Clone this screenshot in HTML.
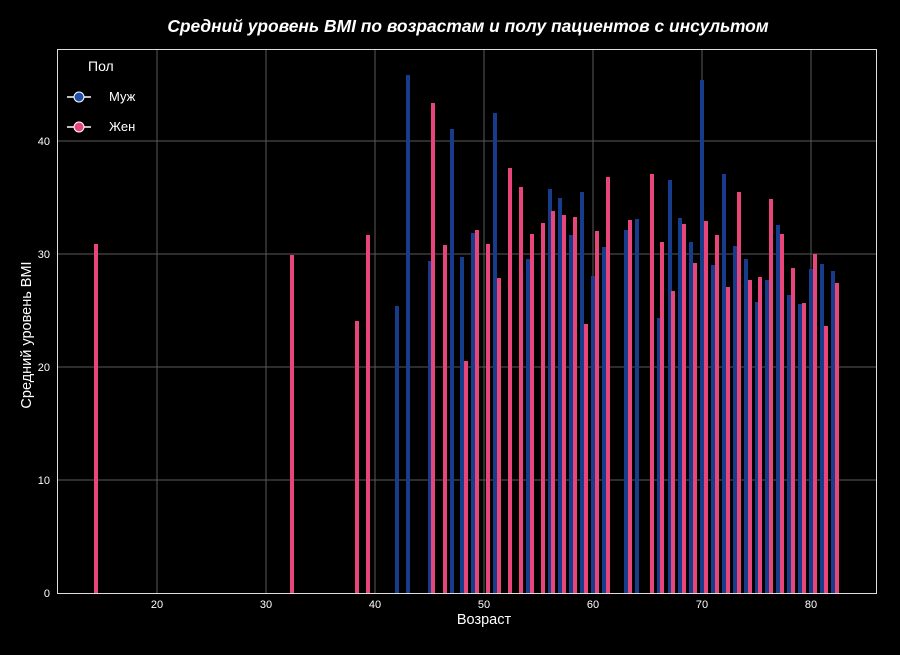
<!DOCTYPE html>
<html><head><meta charset="utf-8"><style>body{margin:0;background:#000}svg{display:block}text{font-family:"Liberation Sans",sans-serif;fill:#fff}</style></head><body>
<svg width="900" height="655" viewBox="0 0 900 655">
<rect width="900" height="655" fill="#000"/>
<g stroke="#5a5a5a" stroke-width="1">
<line x1="157" y1="49" x2="157" y2="593"/><line x1="266" y1="49" x2="266" y2="593"/><line x1="375" y1="49" x2="375" y2="593"/><line x1="484" y1="49" x2="484" y2="593"/><line x1="593" y1="49" x2="593" y2="593"/><line x1="702" y1="49" x2="702" y2="593"/><line x1="811" y1="49" x2="811" y2="593"/>
<line x1="57" y1="480" x2="876" y2="480"/><line x1="57" y1="367" x2="876" y2="367"/><line x1="57" y1="254" x2="876" y2="254"/><line x1="57" y1="141" x2="876" y2="141"/>
</g>
<g id="bars"></g>
<rect x="57.5" y="49.5" width="819" height="544" fill="none" stroke="#ddd" stroke-width="1"/>
<g font-size="11" text-anchor="middle">
<text x="157" y="608">20</text><text x="266" y="608">30</text><text x="375" y="608">40</text><text x="484" y="608">50</text><text x="593" y="608">60</text><text x="702" y="608">70</text><text x="811" y="608">80</text>
</g>
<g font-size="11" text-anchor="end">
<text x="50" y="597">0</text><text x="50" y="484">10</text><text x="50" y="371">20</text><text x="50" y="258">30</text><text x="50" y="145">40</text>
</g>
<text x="468" y="32" font-size="17.4" font-weight="bold" font-style="italic" text-anchor="middle">Средний уровень BMI по возрастам и полу пациентов с инсультом</text>
<text x="484" y="624" font-size="14.5" text-anchor="middle">Возраст</text>
<text transform="translate(31,335) rotate(-90)" font-size="14.5" text-anchor="middle">Средний уровень BMI</text>
<text x="88" y="71" font-size="14">Пол</text>
<line x1="67" y1="97" x2="91" y2="97" stroke="#fff" stroke-width="1.5"/><circle cx="79" cy="97" r="5" fill="#1f4fa8" stroke="#fff"/>
<text x="109" y="101" font-size="13">Муж</text>
<line x1="67" y1="127" x2="91" y2="127" stroke="#fff" stroke-width="1.5"/><circle cx="79" cy="127" r="5" fill="#e8457a" stroke="#fff"/>
<text x="109" y="131" font-size="13">Жен</text>
</svg>
<script>
var b=[[397,306],[408,75],[430,261],[452,129],[462,257],[473,233],[495,113],[528,259],[550,189],[560,198],[571,235],[582,192],[593,276],[604,247],[626,230],[637,219],[659,318],[670,180],[680,218],[691,242],[702,80],[713,265],[724,174],[735,246],[746,259],[757,302],[767,280],[778,225],[789,295],[800,304],[811,269],[822,264],[833,271]];
var p=[[96,244],[292,255],[357,321],[368,235],[433,103],[445,245],[466,361],[477,230],[488,244],[499,278],[510,168],[521,187],[532,234],[543,223],[553,211],[564,215],[575,217],[586,324],[597,231],[608,177],[630,220],[652,174],[662,242],[673,291],[684,224],[695,263],[706,221],[717,235],[728,287],[739,192],[750,280],[760,277],[771,199],[782,234],[793,268],[804,303],[815,254],[826,326],[837,283]];
var g=document.getElementById('bars'),s='';
b.forEach(function(a){s+='<rect x="'+(a[0]-2)+'" y="'+a[1]+'" width="4" height="'+(593-a[1])+'" fill="#173c8c"/>';});
p.forEach(function(a){s+='<rect x="'+(a[0]-2)+'" y="'+a[1]+'" width="4" height="'+(593-a[1])+'" fill="#e8457a"/>';});
g.innerHTML=s;
</script>
</body></html>
